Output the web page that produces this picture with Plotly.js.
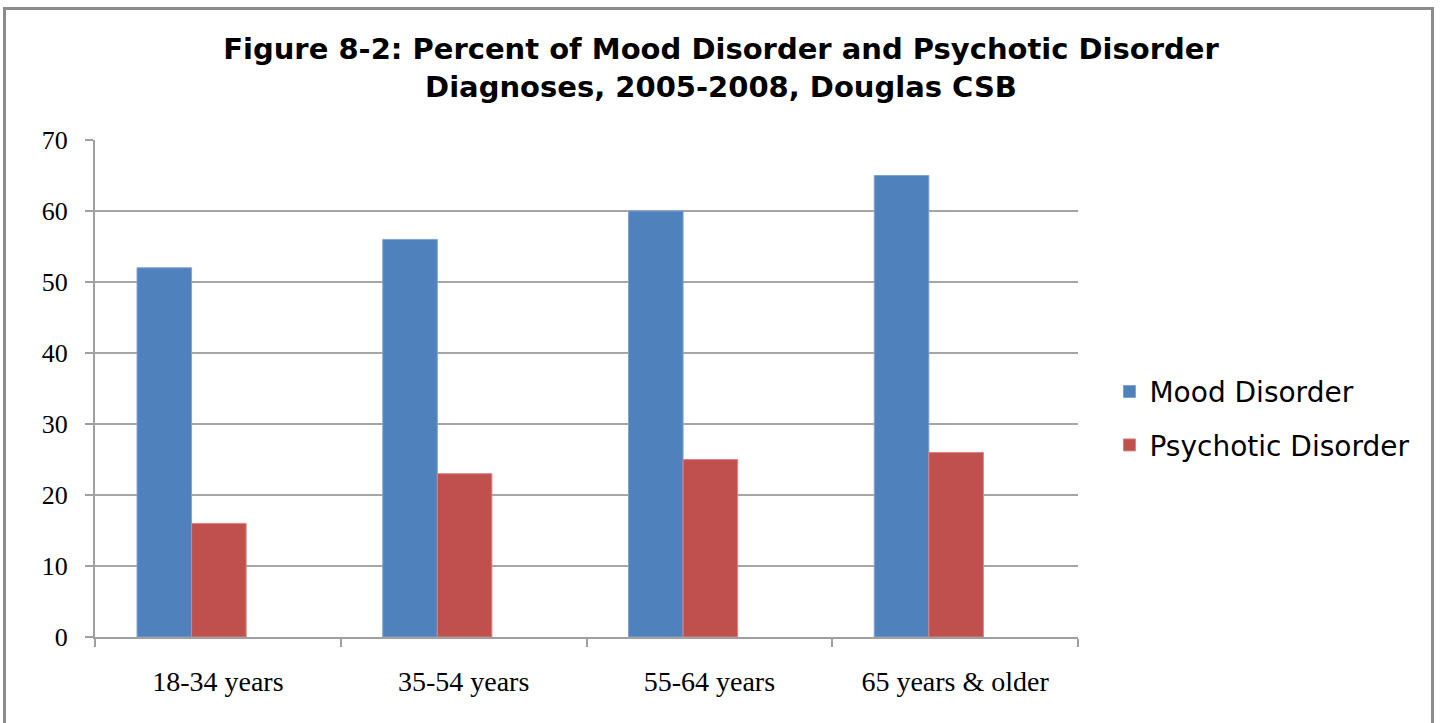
<!DOCTYPE html>
<html>
<head>
<meta charset="utf-8">
<script src="https://cdn.plot.ly/plotly-3.0.1.min.js"></script>
<style>
html,body{margin:0;padding:0;background:#fff;}
#frame{position:absolute;left:3px;top:7px;width:1431px;height:716px;border:3px solid #8c8c8c;border-bottom:none;box-sizing:border-box;}
#chart{position:absolute;left:0;top:0;width:1442px;height:723px;}
</style>
</head>
<body>
<div id="chart"></div>
<div id="frame"></div>
<script>
const categories = ["18-34 years", "35-54 years", "55-64 years", "65 years & older"];
const moodDisorder = [52, 56, 60, 65];
const psychoticDisorder = [16, 23, 25, 26];
const yTicks = [0, 10, 20, 30, 40, 50, 60, 70];

const barW = 0.222;
const traces = [
  {type: "bar", name: "Mood Disorder", x: categories, y: moodDisorder,
   width: barW, offset: -0.329, legendgroup: "a",
   marker: {color: "#4F81BD", line: {color: "#7FA3D1", width: 1}}, hoverinfo: "y"},
  {type: "bar", name: "Psychotic Disorder", x: categories, y: psychoticDisorder,
   width: barW, offset: -0.107, legendgroup: "b",
   marker: {color: "#C0504D", line: {color: "#D88583", width: 1}}, hoverinfo: "y"}
];

const layout = {
  width: 1442, height: 723,
  paper_bgcolor: "#fff", plot_bgcolor: "#fff",
  margin: {l: 95, r: 364, t: 140, b: 86},
  barmode: "overlay",
  title: {
    text: "<b>Figure 8-2: Percent of Mood Disorder and Psychotic Disorder<br>Diagnoses, 2005-2008, Douglas CSB</b>",
    font: {family: "DejaVu Sans", size: 29, color: "#000"},
    x: 0.5, xanchor: "center", y: 0.918, yanchor: "middle"
  },
  xaxis: {
    type: "category", range: [-0.5, 3.5],
    showgrid: false, showline: true, linecolor: "#a0a0a0", linewidth: 2,
    ticks: "outside", ticklen: 8, tickcolor: "#a0a0a0", tickwidth: 2,
    tickson: "boundaries",
    tickfont: {family: "Liberation Serif", size: 28, color: "#000"},
    ticklabelstandoff: 18
  },
  yaxis: {
    range: [0, 70], tickvals: yTicks, ticktext: yTicks.map(String),
    showgrid: true, gridcolor: "#a6a6a6", gridwidth: 2,
    showline: true, linecolor: "#a0a0a0", linewidth: 2,
    ticks: "outside", ticklen: 8, tickcolor: "#a0a0a0", tickwidth: 2,
    tickfont: {family: "Liberation Serif", size: 26, color: "#000"},
    zeroline: false, ticklabelstandoff: 12
  },
  legend: {
    x: 1.032, xanchor: "left", y: 0.44, yanchor: "middle",
    font: {family: "DejaVu Sans", size: 28, color: "#000"},
    traceorder: "grouped", tracegroupgap: 14,
    itemwidth: 30, bgcolor: "rgba(0,0,0,0)"
  },
  showlegend: true
};

Plotly.newPlot("chart", traces, layout, {displayModeBar: false, staticPlot: true});
</script>
</body>
</html>
